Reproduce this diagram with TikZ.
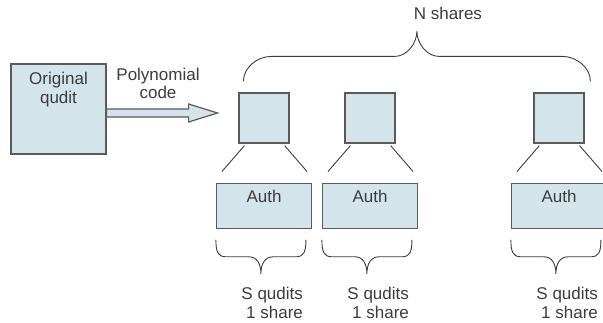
\documentclass[tikz,border=0pt]{standalone}
\usepackage{fontspec}
\setmainfont{Liberation Sans}
\usetikzlibrary{positioning, calc}
\definecolor{boxfill}{HTML}{D3E4EA}
\definecolor{boxline}{HTML}{5A5A5A}
\definecolor{txtgray}{HTML}{3C3C3C}
\tikzstyle{qbox} = [rectangle, draw=boxline, fill=boxfill, line width=1.2pt, inner sep=0pt]
\tikzstyle{share} = [qbox, minimum width=50pt, minimum height=50pt]
\tikzstyle{auth} = [qbox, minimum width=95pt, minimum height=45pt]
\tikzstyle{lbl} = [text=txtgray, font=\fontsize{17}{18.5}\selectfont, align=center, inner sep=0pt]
\tikzstyle{conn} = [draw=txtgray, line width=0.9pt]
\tikzstyle{curly} = [conn, line join=round]
\tikzstyle{bigarrow} = [draw=boxline, fill=boxfill, line width=1.2pt, line join=miter]

\begin{document}
\begin{tikzpicture}[x=1pt, y=-1pt]
	\fill[white] (0,0) rectangle (603,323);
	\clip (0,0) rectangle (603,323);
	\node(orig)[qbox, minimum width=95pt, minimum height=90pt] at (58.5,109) {};
	\node(origtxt)[lbl, below=9pt of orig.north] {Original\\qudit};
	\node(s1)[share] at (264,118) {};
	\node(s2)[share] at (370,118) {};
	\node(s3)[share] at (559,118) {};
	\node(a1)[auth, below=39pt of s1] {};
	\node(a2)[auth, below=39pt of s2] {};
	\node(a3)[auth, below=39pt of s3] {};
	\node(a1txt)[lbl, below=7.5pt of a1.north] {Auth};
	\node(a2txt)[lbl, below=7.5pt of a2.north] {Auth};
	\node(a3txt)[lbl, below=7.5pt of a3.north] {Auth};
	\node(polytxt)[lbl, anchor=north] at (158,67.5) {Polynomial\\code};
	\node(ntxt)[lbl, anchor=north] at (448,6.5) {N shares};
	\node(t1)[lbl, align=right, anchor=north east] at ($(a1.south east)+(-9,58.5)$) {S qudits\\1 share};
	\node(t2)[lbl, align=right, anchor=north east] at ($(a2.south east)+(-9,58.5)$) {S qudits\\1 share};
	\node(t3)[lbl, align=right, anchor=north east] at ($(a3.south east)+(-9,58.5)$) {S qudits\\1 share};

	\draw [bigarrow] (orig.east) -- ++(82,0) -- ++(0,-5) -- ++(29,9) -- ++(-29,9) -- ++(0,-5) -- ++(-82,0) -- cycle;
	\foreach \i in {1,2,3} {
		\draw [conn] ($(s\i.south west)+(6,2)$) -- ($(a\i.north west)+(6,-11)$);
		\draw [conn] ($(s\i.south east)+(-5,2)$) -- ($(a\i.north east)+(-5,-11)$);
		\draw [curly] ($(a\i.south west)+(0,11)$) .. controls +(0,12) and +(-8,0) .. ++(10,17) -- ++(23,0) .. controls +(8,0) and +(0,-10) .. ++(12,17) .. controls +(0,-10) and +(-8,0) .. ++(12,-17) -- ++(23,0) .. controls +(8,0) and +(0,12) .. ++(10,-17);
	}
	% N shares
	\draw [curly] ($(s1.north west)+(5,-11)$) .. controls +(0,-14) and +(-14,0) .. ++(28,-25) -- ++(123.5,0) .. controls +(12,0) and +(0,12) .. ++(22,-25) .. controls +(0,12) and +(-12,0) .. ++(22,25) -- ++(123.5,0) .. controls +(14,0) and +(0,-14) .. ++(28,25);
\end{tikzpicture}
\end{document}
